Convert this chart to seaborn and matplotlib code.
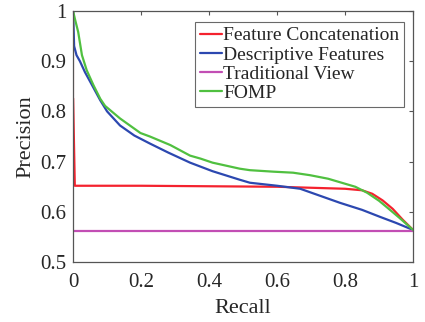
import numpy as np
import pandas as pd
import matplotlib
matplotlib.use("Agg")
import matplotlib.pyplot as plt
import seaborn as sns

# precision/recall curves
SERIES = ["Feature Concatenation", "Descriptive Features", "Traditional View", "FOMP"]

recall_fc = [0, 0, 0.005, 0.2, 0.4, 0.6, 0.7, 0.8, 0.85, 0.88, 0.91, 0.94, 0.97, 1.0]
prec_fc = [1.0, 0.652, 0.652, 0.652, 0.651, 0.650, 0.648, 0.646, 0.643, 0.636, 0.623, 0.606, 0.584, 0.564]

recall_df = [0, 0.003, 0.01, 0.02, 0.035, 0.056, 0.08, 0.1, 0.138, 0.18, 0.226, 0.28,
             0.344, 0.41, 0.49, 0.52, 0.6, 0.668, 0.785, 0.85, 0.903, 0.95, 1.0]
prec_df = [1.0, 0.93, 0.912, 0.900, 0.878, 0.852, 0.822, 0.80, 0.772, 0.752, 0.736, 0.718,
           0.698, 0.681, 0.664, 0.658, 0.652, 0.646, 0.618, 0.604, 0.590, 0.578, 0.564]

recall_tv = [0, 1.0]
prec_tv = [0.562, 0.562]

recall_fomp = [0, 0.005, 0.015, 0.026, 0.04, 0.06, 0.08, 0.094, 0.138, 0.198, 0.226, 0.286,
               0.344, 0.375, 0.41, 0.49, 0.52, 0.59, 0.647, 0.697, 0.75, 0.785, 0.83, 0.865,
               0.9, 0.932, 0.96, 1.0]
prec_fomp = [1.0, 0.985, 0.958, 0.912, 0.882, 0.852, 0.825, 0.811, 0.786, 0.757, 0.750, 0.733,
             0.712, 0.706, 0.698, 0.686, 0.683, 0.680, 0.678, 0.673, 0.666, 0.659, 0.650, 0.638,
             0.622, 0.604, 0.588, 0.564]

COLORS = {
    "Feature Concatenation": "#f4222e",
    "Descriptive Features": "#2c48b0",
    "Traditional View": "#c24eb4",
    "FOMP": "#50c040",
}

frames = []
for name, r, p in zip(SERIES,
                      [recall_fc, recall_df, recall_tv, recall_fomp],
                      [prec_fc, prec_df, prec_tv, prec_fomp]):
    frames.append(pd.DataFrame({"Recall": r, "Precision": p, "method": name}))
df = pd.concat(frames, ignore_index=True)

sns.set_style("white")
plt.rcParams["font.family"] = ["Liberation Serif", "DejaVu Serif"]

fig = plt.figure(figsize=(4.25, 3.22), dpi=100)
ax = fig.add_axes([0.172, 0.186, 0.8, 0.78])

for name in SERIES:
    sub = df[df["method"] == name]
    sns.lineplot(data=sub, x="Recall", y="Precision", sort=False, color=COLORS[name],
                 linewidth=1.6, label=name, ax=ax)

ax.set_xlim(0, 1)
ax.set_ylim(0.5, 1)
ax.set_xticks([0, 0.2, 0.4, 0.6, 0.8, 1])
ax.set_xticklabels(["0", "0.2", "0.4", "0.6", "0.8", "1"])
ax.set_yticks([0.5, 0.6, 0.7, 0.8, 0.9, 1])
ax.set_yticklabels(["0.5", "0.6", "0.7", "0.8", "0.9", "1"])
ax.tick_params(direction="in", length=3, width=0.8, color="#555555",
               labelsize=15, top=True, right=True)
ax.tick_params(axis="x", pad=8)
ax.tick_params(axis="y", pad=5)
ax.set_xlabel("Recall", fontsize=16, labelpad=5)
ax.set_ylabel("Precision", fontsize=16, labelpad=3)
for s in ax.spines.values():
    s.set_color("#555555")
    s.set_linewidth(0.9)

leg = ax.legend(loc="upper left", bbox_to_anchor=(0.359, 0.956), fontsize=14,
                frameon=True, fancybox=False, handlelength=1.15, handletextpad=0.05,
                borderpad=0.25, labelspacing=0.08, borderaxespad=0)
leg.get_frame().set_edgecolor("#444444")
leg.get_frame().set_linewidth(0.8)

fig.savefig("out.png", dpi=100)
